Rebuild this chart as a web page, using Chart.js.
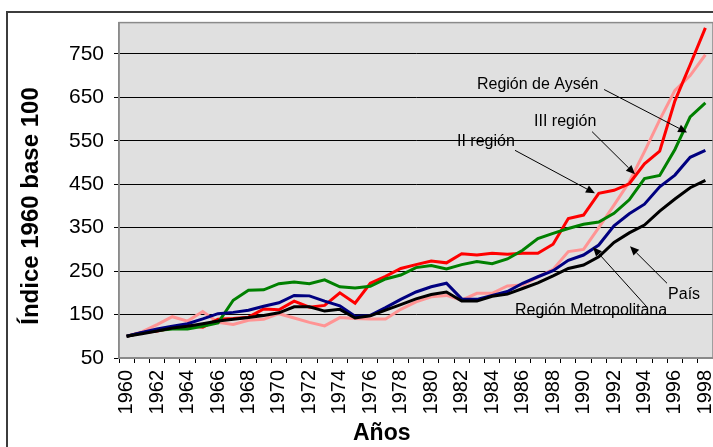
<!DOCTYPE html>
<html><head><meta charset="utf-8">
<script src="https://cdn.jsdelivr.net/npm/chart.js@4.4.1/dist/chart.umd.min.js"></script>
<style>
html,body{margin:0;padding:0;background:#fff;overflow:hidden;width:713px;height:447px;}
#wrap{position:absolute;left:0;top:0;width:740px;height:447px;}
canvas{display:block;}
</style></head><body>
<div id="wrap"><canvas id="c" width="740" height="447"></canvas></div>
<script>
const years = ['1960','1961','1962','1963','1964','1965','1966','1967','1968','1969',
  '1970','1971','1972','1973','1974','1975','1976','1977','1978','1979',
  '1980','1981','1982','1983','1984','1985','1986','1987','1988','1989',
  '1990','1991','1992','1993','1994','1995','1996','1997','1998'];
const pais = [100,106,112,119,123,129,135,139,143,148,154,168,168,158,162,142,147,160,173,186,
  196,202,181,181,192,197,210,223,239,256,264,283,316,338,356,388,416,442,459];
const metropolitana = [100,109,117,123,129,140,152,155,160,169,177,194,193,181,170,146,148,166,185,202,
  214,222,186,185,194,203,222,237,251,275,287,310,354,382,404,444,471,512,528];
const aysen = [100,108,113,117,117,123,131,183,206,207,221,225,221,230,214,211,215,232,241,258,
  263,255,265,272,267,278,298,325,337,348,358,363,383,414,463,470,530,605,637];
const region2 = [100,108,112,119,125,121,139,141,144,163,161,181,167,171,200,176,222,238,256,265,
  273,269,290,287,291,289,291,291,312,371,379,429,436,451,497,526,642,725,810];
const region3 = [100,110,127,145,135,157,132,127,137,139,152,142,132,124,143,141,140,140,162,179,
  191,194,183,199,199,216,218,236,254,295,300,350,402,455,525,598,666,700,748];
const yTicks = [50,150,250,350,450,550,650,750];
const xTitle = 'Años';
const yTitle = 'Índice 1960 base 100';

// annotations, anchored in data coordinates [category index, value]
const annoTexts = ['Región de Aysén','III región','II región','País','Región Metropolitana'];
const annoTextAt = [[23.0,669.5],[26.75,583],[21.69,537],[35.55,185.5],[25.5,148.8]];
const annoFrom = [[31.35,668],[30.56,571],[25.5,528],[35.48,222],[34.17,167]];
const annoTo = [[36.8,569],[33.38,473],[30.75,429],[33.05,307],[30.62,305]];

const FONT = '"Liberation Sans", Arial, sans-serif';
Chart.defaults.font.family = FONT;
Chart.defaults.color = '#000';

const deco = {
  id: 'deco',
  beforeDraw(chart) {
    const {ctx, chartArea: a} = chart;
    ctx.save();
    ctx.fillStyle = '#fff';
    ctx.fillRect(0, 0, chart.width, chart.height);
    ctx.strokeStyle = '#3c3c3c';
    ctx.lineWidth = 2;
    ctx.strokeRect(7, 12, chart.width + 20, chart.height + 20);
    ctx.fillStyle = '#e0e0e0';
    ctx.fillRect(a.left, a.top, a.right - a.left, a.bottom - a.top);
    ctx.restore();
  },
  afterDatasetsDraw(chart) {
    const {ctx, chartArea: a} = chart;
    const xs = chart.scales.x, ys = chart.scales.y;
    const P = (p) => [xs.getPixelForValue(p[0]), ys.getPixelForValue(p[1])];
    ctx.save();
    ctx.strokeStyle = '#8a8a8a';
    ctx.lineWidth = 1.5;
    ctx.strokeRect(a.left, a.top, a.right - a.left, a.bottom - a.top);
    ctx.fillStyle = '#000';
    ctx.font = '16px ' + FONT;
    ctx.textBaseline = 'alphabetic';
    ctx.textAlign = 'left';
    for (let i = 0; i < annoTexts.length; i++) {
      const [tx, ty] = P(annoTextAt[i]);
      ctx.fillText(annoTexts[i], tx, ty);
      const [x1, y1] = P(annoFrom[i]);
      const [x2, y2] = P(annoTo[i]);
      const ang = Math.atan2(y2 - y1, x2 - x1);
      const L = 9, W = 4;
      const bx = x2 - L * Math.cos(ang), by = y2 - L * Math.sin(ang);
      ctx.strokeStyle = '#000';
      ctx.lineWidth = 1;
      ctx.beginPath(); ctx.moveTo(x1, y1); ctx.lineTo(bx, by); ctx.stroke();
      ctx.beginPath();
      ctx.moveTo(x2, y2);
      ctx.lineTo(bx + W * Math.sin(ang), by - W * Math.cos(ang));
      ctx.lineTo(bx - W * Math.sin(ang), by + W * Math.cos(ang));
      ctx.closePath(); ctx.fill();
    }
    ctx.restore();
  },
  afterDraw(chart) {
    const {ctx} = chart;
    ctx.save();
    ctx.fillStyle = '#000';
    ctx.font = 'bold 23px ' + FONT;
    ctx.textAlign = 'left';
    ctx.textBaseline = 'alphabetic';
    ctx.fillText(xTitle, 353, 440);
    ctx.font = 'bold 24px ' + FONT;
    ctx.translate(38, 206);
    ctx.rotate(-Math.PI / 2);
    ctx.textAlign = 'center';
    ctx.fillText(yTitle, 0, 0);
    ctx.restore();
  }
};

const mk = (label, data, color) => ({
  label, data, borderColor: color, backgroundColor: color,
  borderWidth: 3, pointRadius: 0, tension: 0, fill: false
});

new Chart(document.getElementById('c'), {
  type: 'line',
  data: {
    labels: years,
    datasets: [
      mk('País', pais, '#000000'),
      mk('Región Metropolitana', metropolitana, '#000080'),
      mk('Región de Aysén', aysen, '#008000'),
      mk('II región', region2, '#ff0000'),
      mk('III región', region3, '#ff9494')
    ]
  },
  options: {
    responsive: false,
    animation: false,
    devicePixelRatio: 1,
    layout: {padding: {left: 0, top: 22, right: 27, bottom: 0}},
    plugins: {legend: {display: false}, tooltip: {enabled: false}},
    scales: {
      x: {
        offset: true,
        grid: {offset: true, drawOnChartArea: false, drawTicks: true, tickLength: 5, color: '#000', lineWidth: 1},
        border: {color: '#8a8a8a', width: 1.5},
        ticks: {
          autoSkip: false, minRotation: 90, maxRotation: 90, padding: 7,
          font: {size: 20},
          callback: function(v, i) { return i % 2 === 0 ? years[i] : ''; }
        },
        afterFit(scale) { scale.height = 89; }
      },
      y: {
        min: 50, max: 822,
        afterBuildTicks(scale) { scale.ticks = yTicks.map(v => ({value: v})); },
        grid: {
          tickLength: 5, lineWidth: 1,
          color: (c) => (c.tick && c.tick.value === 50) ? '#8a8a8a' : '#000',
          tickColor: '#000'
        },
        border: {color: '#8a8a8a', width: 1.5},
        ticks: {padding: 10, font: {size: 21}},
        afterFit(scale) { scale.width = 119; }
      }
    }
  },
  plugins: [deco]
});
</script>
</body></html>
